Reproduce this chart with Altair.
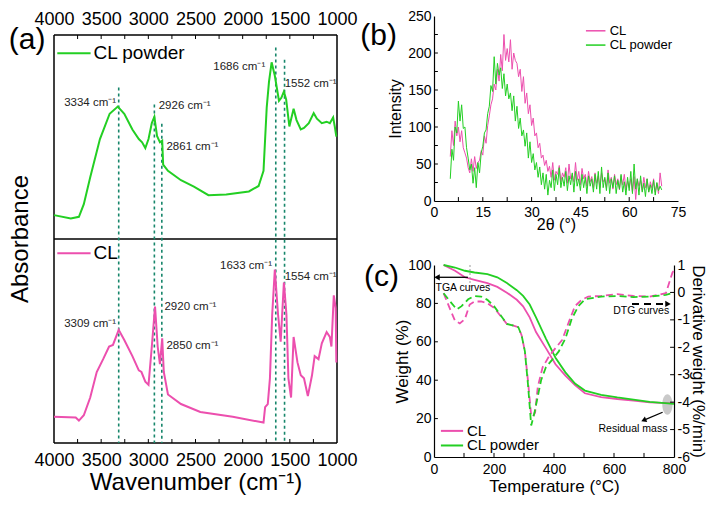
import altair as alt
import pandas as pd
import numpy as np

FONT = "Liberation Sans"
PINK = "#ec4fae"
GREEN = "#23cf23"
TEAL = "#17866b"

# ---------------- (a) FTIR ----------------
ftir_powder_wn = [4000, 3822, 3736, 3684, 3616, 3513, 3410, 3324, 3255, 3169, 3101, 3066, 3032, 2998, 2963,
                  2936, 2908, 2877, 2853, 2843, 2792, 2654, 2517, 2363, 2174, 1934, 1831, 1779, 1762, 1745,
                  1721, 1693, 1659, 1615, 1590, 1563, 1539, 1505, 1460, 1429, 1384, 1350, 1299, 1247, 1213,
                  1161, 1110, 1076, 1041, 1024, 1007]
ftir_powder_abs = [0.117, 0.101, 0.109, 0.171, 0.303, 0.49, 0.614, 0.649, 0.614, 0.537, 0.49, 0.474, 0.446, 0.49, 0.568,
                   0.599, 0.505, 0.474, 0.482, 0.365, 0.334, 0.288, 0.257, 0.215, 0.218, 0.233, 0.26, 0.334, 0.49, 0.645,
                   0.77, 0.866, 0.8, 0.677, 0.692, 0.723, 0.684, 0.552, 0.638, 0.583, 0.537, 0.544, 0.568, 0.617, 0.59,
                   0.568, 0.575, 0.568, 0.596, 0.552, 0.502]
ftir_cl_wn = [4000, 3770, 3736, 3684, 3616, 3547, 3479, 3416, 3375, 3314, 3255, 3169, 3101, 3073, 3032,
              2998, 2963, 2929, 2901, 2877, 2853, 2836, 2792, 2654, 2449, 2105, 1779, 1762, 1734, 1711,
              1687, 1659, 1625, 1597, 1563, 1536, 1515, 1487, 1460, 1419, 1384, 1350, 1309, 1265, 1237,
              1196, 1161, 1110, 1076, 1059, 1034, 1014, 1007]
ftir_cl_abs = [0.129, 0.125, 0.11, 0.136, 0.223, 0.348, 0.411, 0.473, 0.481, 0.555, 0.505, 0.426, 0.356, 0.348, 0.301,
               0.285, 0.473, 0.669, 0.473, 0.387, 0.513, 0.348, 0.238, 0.191, 0.152, 0.129, 0.1, 0.176, 0.191, 0.317,
               0.63, 0.85, 0.63, 0.497, 0.787, 0.63, 0.317, 0.223, 0.52, 0.395, 0.332, 0.317, 0.23, 0.332, 0.426,
               0.411, 0.489, 0.544, 0.52, 0.473, 0.724, 0.661, 0.395]
ftir_ticks = [4000, 3500, 3000, 2500, 2000, 1500, 1000]
ftir_minor = [3750, 3500, 3250, 3000, 2750, 2500, 2250, 2000, 1750, 1500, 1250]

peak_line_wn = [3314, 2936, 2857, 1649, 1556]
peak_line_top = [0.743, 0.659, 0.565, 0.939, 0.879]   # in the upper (CL powder) panel

powder_lbl_r = ["3334 cm⁻¹", "1686 cm⁻¹"]
powder_lbl_r_x = [3342, 1761]
powder_lbl_r_y = [0.668, 0.841]
powder_lbl_l = ["2926 cm⁻¹", "2861 cm⁻¹", "1552 cm⁻¹"]
powder_lbl_l_x = [2890, 2808, 1555]
powder_lbl_l_y = [0.654, 0.449, 0.762]

cl_lbl_r = ["3309 cm⁻¹", "1633 cm⁻¹"]
cl_lbl_r_x = [3342, 1689]
cl_lbl_r_y = [0.582, 0.869]
cl_lbl_l = ["2920 cm⁻¹", "2850 cm⁻¹", "1554 cm⁻¹"]
cl_lbl_l_x = [2829, 2808, 1555]
cl_lbl_l_y = [0.667, 0.474, 0.812]

# ---------------- (b) XRD ----------------
xrd_angle = np.arange(5.0, 70.01, 0.5)
xrd_cl = [60, 95, 75, 108, 88, 100, 80, 95, 72, 65,
          58, 45, 38, 57, 40, 60, 44, 52, 55, 68,
          62, 88, 78, 102, 115, 130, 138, 158, 150, 178,
          162, 198, 176, 225, 190, 206, 188, 218, 178, 200,
          190, 186, 168, 178, 148, 168, 132, 146, 118, 130,
          102, 112, 88, 92, 72, 78, 58, 62, 48, 55,
          40, 47, 32, 52, 28, 40, 36, 48, 26, 38,
          32, 45, 24, 50, 30, 36, 26, 52, 28, 40,
          22, 44, 30, 36, 20, 40, 26, 33, 18, 38,
          24, 34, 18, 38, 26, 30, 18, 42, 24, 32,
          16, 36, 22, 30, 15, 34, 22, 36, 15, 27,
          18, 30, 12, 33, 2, 30, 20, 28, 14, 32,
          18, 30, 12, 26, 17, 30, 12, 24, 10, 38,
          20]
xrd_powder = [30, 70, 55, 100, 92, 135, 108, 130, 98, 100,
              72, 58, 42, 50, 24, 45, 18, 52, 38, 65,
              74, 92, 96, 118, 128, 156, 148, 195, 158, 186,
              170, 180, 152, 172, 142, 158, 138, 146, 122, 142,
              108, 128, 98, 112, 88, 96, 74, 92, 58, 80,
              52, 64, 42, 52, 32, 46, 22, 38, 16, 36,
              8, 28, 18, 42, 14, 36, 22, 45, 18, 32,
              20, 40, 14, 34, 22, 38, 12, 40, 20, 30,
              14, 36, 18, 32, 10, 34, 20, 30, 12, 36,
              16, 40, 10, 46, 18, 32, 14, 38, 10, 30,
              18, 34, 10, 28, 16, 36, 12, 26, 8, 32,
              14, 40, 10, 50, 16, 30, 8, 34, 12, 24,
              6, 30, 12, 22, 10, 28, 8, 25, 14, 20,
              15]
xrd_xticks = [0, 15, 30, 45, 60, 75]
xrd_yticks = [0, 50, 100, 150, 200, 250]

# ---------------- (c) TGA / DTG ----------------
tga_T = [32, 70, 103, 135, 178, 211, 243, 276, 297, 319, 340, 373, 405, 438, 470, 503, 557, 611, 665, 719, 800]
tga_cl = [100, 97, 93.6, 92.3, 90.6, 88.6, 85.6, 81.9, 78.5, 72.7, 65.1, 56.7, 48.3, 42.4, 37.4, 33.2, 31.2, 30.2, 29.4, 28.5, 27.9]
tga_powder = [100, 98.7, 97, 96.1, 95.3, 93.6, 90.6, 86.9, 83.9, 79.4, 72.7, 61.7, 51.7, 44.1, 38.3, 34.6, 32.4, 31, 29.9, 28.7, 27.7]
dtg_cl_T = [32, 54, 70, 86, 103, 119, 135, 157, 178, 200, 222, 243, 265, 281, 292, 303, 313, 324, 330, 337,
            346, 362, 384, 405, 427, 449, 470, 492, 514, 557, 611, 665, 719, 773, 795, 800]
dtg_cl = [-0.03, -0.62, -1.03, -1.13, -0.97, -0.44, -0.33, -0.33, -0.39, -0.56, -0.86, -1.15, -1.21, -1.27, -1.56,
          -2.15, -3.2, -4.5, -4.52, -4.38, -3.44, -2.73, -2.32, -2.03, -1.74, -1.09, -0.5, -0.27, -0.15, -0.13,
          -0.06, -0.13, -0.15, -0.03, 0.73, 0.79]
dtg_powder_T = [32, 54, 76, 92, 114, 135, 157, 178, 200, 222, 243, 265, 281, 292, 303, 313, 324, 335, 346, 357,
                373, 395, 416, 438, 459, 481, 503, 557, 611, 665, 719, 773, 800]
dtg_powder = [-0.03, -0.33, -0.62, -0.5, -0.25, -0.13, -0.15, -0.27, -0.5, -0.83, -1.15, -1.21, -1.27, -1.56, -2.15,
              -3.32, -4.85, -4.38, -3.79, -3.2, -2.73, -2.44, -2.15, -1.68, -0.97, -0.5, -0.25, -0.15, -0.13, -0.17,
              -0.15, -0.09, -0.01]
tga_xticks = [0, 200, 400, 600, 800]
tga_yticks = [0, 20, 40, 60, 80, 100]
dtg_yticks = [-6, -5, -4, -3, -2, -1, 0, 1]

# ---------------- geometry ----------------
WA, H_EACH, EXT = 283, 204, 19
HA = 2 * H_EACH + EXT
WB, HB = 244, 185
WC, HC = 240, 192


def D(**cols):
    return pd.DataFrame(cols)


def up(vals):
    # the CL powder spectrum sits in the upper half of panel (a)
    return [1 + v for v in vals]


# ======== panel (a): two stacked spectra in one frame ========
ytop = 2 + EXT / H_EACH
xa_scale = alt.Scale(domain=[1000, 4000], reverse=True, nice=False, zero=False)
ya_scale = alt.Scale(domain=[0, ytop], nice=False, zero=False)
XN = alt.X("x:Q", scale=xa_scale, axis=None)
X_TOP = alt.X("x:Q", scale=xa_scale, axis=alt.Axis(
    orient="top", offset=-EXT, values=ftir_ticks, tickSize=0, domain=False, labelFontSize=18, labelPadding=7,
    labelOverlap=False, labelFlush=False, format="d", title=None))
X_BOT = alt.X("x:Q", scale=xa_scale, axis=alt.Axis(
    orient="bottom", values=ftir_ticks, tickSize=0, domain=False, labelFontSize=18, labelPadding=8,
    labelOverlap=False, labelFlush=False, format="d", title="Wavenumber (cm⁻¹)", titleFontSize=24,
    titlePadding=1))
YA = alt.Y("y:Q", scale=ya_scale, axis=None)
tk = 4 / H_EACH

a_layers = [
    # frame + divider
    alt.Chart(D(x=[4000, 4000, 4000], x2=[1000, 1000, 1000], y=[0, 1, 2])).mark_rule(
        color="black", strokeWidth=1.5).encode(x=X_TOP, x2=alt.X2("x2"), y=YA),
    alt.Chart(D(x=[4000, 1000], y=[0, 0], y2=[2, 2])).mark_rule(
        color="black", strokeWidth=1.5).encode(x=X_BOT, y=YA, y2=alt.Y2("y2")),
    # inner ticks
    alt.Chart(D(x=ftir_minor + ftir_minor, y=[2] * 11 + [0] * 11, y2=[2 - tk] * 11 + [tk] * 11)).mark_rule(
        color="black").encode(x=XN, y=YA, y2=alt.Y2("y2")),
    # peak guide lines
    alt.Chart(D(x=peak_line_wn, y=up(peak_line_top), y2=[0] * 5)).mark_rule(
        color=TEAL, strokeWidth=1.6, strokeDash=[3, 3]).encode(x=XN, y=YA, y2=alt.Y2("y2")),
    # spectra
    alt.Chart(D(x=ftir_powder_wn, y=up(ftir_powder_abs))).mark_line(color=GREEN, strokeWidth=2).encode(x=XN, y=YA),
    alt.Chart(D(x=ftir_cl_wn, y=ftir_cl_abs)).mark_line(color=PINK, strokeWidth=2).encode(x=XN, y=YA),
    # peak labels
    alt.Chart(D(x=powder_lbl_r_x + cl_lbl_r_x, y=up(powder_lbl_r_y) + cl_lbl_r_y,
                t=powder_lbl_r + cl_lbl_r)).mark_text(
        align="right", baseline="middle", fontSize=11.5, color="#222").encode(x=XN, y=YA, text="t:N"),
    alt.Chart(D(x=powder_lbl_l_x + cl_lbl_l_x, y=up(powder_lbl_l_y) + cl_lbl_l_y,
                t=powder_lbl_l + cl_lbl_l)).mark_text(
        align="left", baseline="middle", fontSize=11.5, color="#222").encode(x=XN, y=YA, text="t:N"),
    # legends
    alt.Chart(D(x=[3965, 3965], x2=[3612, 3612], y=[1.911, 0.93], c=["CL powder", "CL"])).mark_rule(
        strokeWidth=2).encode(x=XN, x2=alt.X2("x2"), y=YA,
                              color=alt.Color("c:N", scale=alt.Scale(domain=["CL", "CL powder"],
                                                                     range=[PINK, GREEN]), legend=None)),
    alt.Chart(D(x=[3582, 3582], y=[1.911, 0.93], t=["CL powder", "CL"])).mark_text(
        align="left", baseline="middle", fontSize=19).encode(x=XN, y=YA, text="t:N"),
    # panel letter and y title
    alt.Chart(D(x=[4285], y=[1.976], t=["(a)"])).mark_text(
        align="center", baseline="middle", fontSize=30).encode(x=XN, y=YA, text="t:N"),
    alt.Chart(D(x=[4350], y=[1.0], t=["Absorbance"])).mark_text(
        align="center", baseline="middle", fontSize=24, angle=270).encode(x=XN, y=YA, text="t:N"),
]
panel_a = alt.layer(*a_layers).resolve_axis(x="independent").properties(
    width=WA, height=HA, view=alt.ViewBackground(stroke="transparent"))

# ======== panel (b) ========
xb_scale = alt.Scale(domain=[0, 75], nice=False, zero=False)
yb_scale = alt.Scale(domain=[0, 250], nice=False, zero=False)
XB = alt.X("x:Q", scale=xb_scale, axis=alt.Axis(values=xrd_xticks, title="2θ (°)", tickSize=0, labelFontSize=14,
                                                titleFontSize=16, labelPadding=4, titlePadding=-3,
                                                domainWidth=1.2, labelFlush=False, labelOverlap=False))
YB = alt.Y("y:Q", scale=yb_scale, axis=alt.Axis(values=xrd_yticks, title="Intensity", tickSize=0, labelFontSize=14,
                                                titleFontSize=16, labelPadding=3, titlePadding=4,
                                                domainWidth=1.2, labelFlush=False, labelOverlap=False))
b_layers = [
    alt.Chart(D(x=xrd_angle, y=xrd_cl)).mark_line(color=PINK, strokeWidth=1).encode(x=XB, y=YB),
    alt.Chart(D(x=xrd_angle, y=xrd_powder)).mark_line(color=GREEN, strokeWidth=1).encode(x=XB, y=YB),
    alt.Chart(D(x=[7.5 * i for i in range(1, 10)], y=[0] * 9, y2=[5.3] * 9)).mark_rule(
        color="black").encode(x=XB, y=YB, y2=alt.Y2("y2")),
    alt.Chart(D(x=[0] * 9, x2=[1.2] * 9, y=[25 * i for i in range(1, 10)])).mark_rule(
        color="black").encode(x=XB, x2=alt.X2("x2"), y=YB),
    alt.Chart(D(x=[46.7, 46.7], x2=[52.7, 52.7], y=[230, 210.7], c=["CL", "CL powder"])).mark_rule(
        strokeWidth=1.5).encode(x=XB, x2=alt.X2("x2"), y=YB,
                                color=alt.Color("c:N", scale=alt.Scale(domain=["CL", "CL powder"], range=[PINK, GREEN]),
                                                legend=None)),
    alt.Chart(D(x=[54, 54], y=[230, 210.7], t=["CL", "CL powder"])).mark_text(
        align="left", baseline="middle", fontSize=13).encode(x=XB, y=YB, text="t:N"),
    alt.Chart(D(x=[-17], y=[222.5], t=["(b)"])).mark_text(
        align="center", baseline="middle", fontSize=30).encode(x=XB, y=YB, text="t:N"),
]
panel_b = alt.layer(*b_layers).properties(width=WB, height=HB, view=alt.ViewBackground(stroke="transparent"))

# ======== panel (c) ========
xc_scale = alt.Scale(domain=[0, 800], nice=False, zero=False)
yc_scale = alt.Scale(domain=[0, 100], nice=False, zero=False)
yd_scale = alt.Scale(domain=[-6, 1], nice=False, zero=False)
xc_axis = alt.Axis(values=tga_xticks, title="Temperature (°C)", tickSize=0, labelFontSize=14, titleFontSize=17,
                   labelPadding=5, titlePadding=2, domainWidth=1.2, labelFlush=False, labelOverlap=False)
XC = alt.X("x:Q", scale=xc_scale, axis=xc_axis)
YC = alt.Y("y:Q", scale=yc_scale, axis=alt.Axis(values=tga_yticks, title="Weight (%)", tickSize=0, labelFontSize=14,
                                                titleFontSize=17, labelPadding=3, titlePadding=-4,
                                                domainWidth=1.2, labelOverlap=False))
YD = alt.Y("y:Q", scale=yd_scale, axis=alt.Axis(orient="right", values=dtg_yticks,
                                                labelExpr="datum.value < 0 ? '-' + abs(datum.value) : '' + datum.value",
                                                title="Derivative weight (%/min)", tickSize=0, labelFontSize=14,
                                                titleFontSize=17, labelPadding=3, titlePadding=-1,
                                                domainWidth=1.2, labelOverlap=False))
ser_color = alt.Color("c:N", scale=alt.Scale(domain=["CL", "CL powder"], range=[PINK, GREEN]), legend=None)

ellipse = "M -0.5 0 A 0.5 1 0 1 0 0.5 0 A 0.5 1 0 1 0 -0.5 0 Z"

tga_group = alt.layer(
    alt.Chart(D(x=[778], y=[27.3])).mark_point(shape=ellipse, size=420, filled=True, color="#bbbbbb",
                                                opacity=0.8).encode(x=XC, y=YC),
    alt.Chart(D(x=tga_T, y=tga_cl)).mark_line(color=PINK, strokeWidth=1.8).encode(x=XC, y=YC),
    alt.Chart(D(x=tga_T, y=tga_powder)).mark_line(color=GREEN, strokeWidth=1.8).encode(x=XC, y=YC),
    alt.Chart(D(x=[100 * i for i in range(1, 8)], y=[0] * 7, y2=[2.1] * 7)).mark_rule(color="black").encode(
        x=XC, y=YC, y2=alt.Y2("y2")),
    alt.Chart(D(x=[0] * 4, x2=[13] * 4, y=[20, 40, 60, 80])).mark_rule(color="black").encode(
        x=XC, x2=alt.X2("x2"), y=YC),
    alt.Chart(D(x=[120], y=[100], y2=[88])).mark_rule(color="#999999", strokeDash=[2, 2]).encode(
        x=XC, y=YC, y2=alt.Y2("y2")),
    alt.Chart(D(x=[113], x2=[10], y=[93.6])).mark_rule(color="black", strokeWidth=1.3).encode(
        x=XC, x2=alt.X2("x2"), y=YC),
    alt.Chart(D(x=[10], y=[93.6])).mark_point(shape="triangle-left", filled=True, size=40, color="black",
                                               opacity=1).encode(x=XC, y=YC),
    alt.Chart(D(x=[5], y=[87.8], t=["TGA curves"])).mark_text(
        align="left", baseline="middle", fontSize=10.5).encode(x=XC, y=YC, text="t:N"),
    alt.Chart(D(x=[762], x2=[700], y=[23.3], y2=[19.2])).mark_rule(color="black", strokeWidth=1.3).encode(
        x=XC, x2=alt.X2("x2"), y=YC, y2=alt.Y2("y2")),
    alt.Chart(D(x=[699], y=[19.1])).mark_point(shape="triangle-left", filled=True, size=35, color="black",
                                                angle=337, opacity=1).encode(x=XC, y=YC),
    alt.Chart(D(x=[778], y=[14.8], t=["Residual mass"])).mark_text(
        align="right", baseline="middle", fontSize=10.5).encode(x=XC, y=YC, text="t:N"),
    alt.Chart(D(x=[23, 23], x2=[97, 97], y=[13.6, 6], c=["CL", "CL powder"])).mark_rule(strokeWidth=2).encode(
        x=XC, x2=alt.X2("x2"), y=YC, color=ser_color),
    alt.Chart(D(x=[110, 110], y=[13.6, 6], t=["CL", "CL powder"])).mark_text(
        align="left", baseline="middle", fontSize=15).encode(x=XC, y=YC, text="t:N"),
    alt.Chart(D(x=[-175], y=[94], t=["(c)"])).mark_text(
        align="center", baseline="middle", fontSize=30).encode(x=XC, y=YC, text="t:N"),
)

dtg_group = alt.layer(
    alt.Chart(D(x=dtg_cl_T, y=dtg_cl)).mark_line(color=PINK, strokeWidth=1.8, strokeDash=[7, 4]).encode(x=XC, y=YD),
    alt.Chart(D(x=dtg_powder_T, y=dtg_powder)).mark_line(color=GREEN, strokeWidth=1.8, strokeDash=[7, 4]).encode(
        x=XC, y=YD),
    alt.Chart(D(x=[800] * 6, x2=[787] * 6, y=[-5, -4, -3, -2, -1, 0])).mark_rule(color="black").encode(
        x=XC, x2=alt.X2("x2"), y=YD),
    alt.Chart(D(x=[660], x2=[778], y=[-0.42])).mark_rule(color="black", strokeWidth=2, strokeDash=[7, 5]).encode(
        x=XC, x2=alt.X2("x2"), y=YD),
    alt.Chart(D(x=[780], y=[-0.42])).mark_point(shape="triangle-right", filled=True, size=40, color="black",
                                                 opacity=1).encode(x=XC, y=YD),
    alt.Chart(D(x=[784], y=[-0.68], t=["DTG curves"])).mark_text(
        align="right", baseline="middle", fontSize=10.5).encode(x=XC, y=YD, text="t:N"),
)

panel_c = alt.layer(tga_group, dtg_group).resolve_scale(y="independent").properties(
    width=WC, height=HC, view=alt.ViewBackground(stroke="transparent"))

right_col = alt.vconcat(panel_b, panel_c, spacing=64, bounds="flush")

chart = alt.hconcat(panel_a, right_col, spacing=97, bounds="flush").properties(
    padding=0, background="white"
).configure_axis(
    labelFont=FONT, titleFont=FONT, titleFontWeight="normal", labelColor="black", titleColor="black",
    domainColor="black", tickColor="black", grid=False
).configure_text(font=FONT, color="black")

chart.save("out.html", embed_options={"renderer": "svg", "actions": False})
